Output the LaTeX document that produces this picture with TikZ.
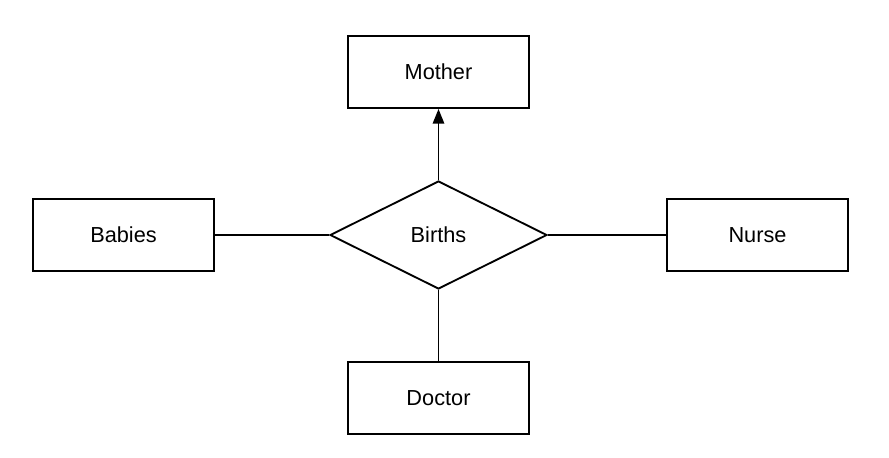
\documentclass[tikz,border=0pt]{standalone}
\usepackage{fontspec}
\setmainfont{Liberation Sans}
\usetikzlibrary{shapes.geometric,arrows.meta}

\begin{document}
\begin{tikzpicture}[x=0.75pt,y=-0.75pt,
    entity/.style={draw,line width=1.4pt,minimum width=135.75pt,minimum height=54pt,
      font=\fontsize{16.3}{19}\selectfont},
    relation/.style={draw,diamond,line width=1.4pt,inner sep=0pt,minimum width=162.75pt,
      minimum height=81pt,font=\fontsize{16.3}{19}\selectfont},
    link/.style={line width=1.4pt}]
    \useasboundingbox (0,0) rectangle (889,457);
    % entities and the relationship
    \node[relation] (births) at (438.5,235) {Births};
    \node[entity] (mother) at (438.5,72) {Mother};
    \node[entity] (babies) at (123.5,235) {Babies};
    \node[entity] (nurse) at (757.5,235) {Nurse};
    \node[entity] (doctor) at (438.5,398) {Doctor};
    % connectors
    \draw[link,-{Triangle[length=11pt,width=8.5pt]}] (births.north) -- (mother.south);
    \draw[link] (babies.east) -- (births.west);
    \draw[link] (births.east) -- (nurse.west);
    \draw[link] (births.south) -- (doctor.north);
\end{tikzpicture}
\end{document}
